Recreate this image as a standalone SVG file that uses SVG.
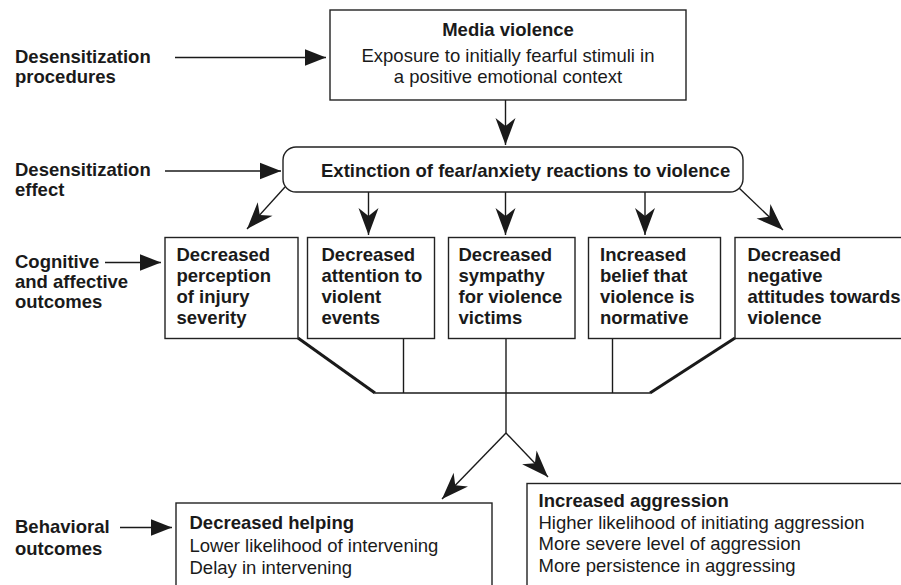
<svg xmlns="http://www.w3.org/2000/svg" width="901" height="585" viewBox="0 0 901 585">
<defs>
<style>
text{font-family:"Liberation Sans",Arial,Helvetica,sans-serif;font-size:18.5px;fill:#1a1a1a}
.b{font-weight:bold}
.box{fill:#fff;stroke:#222;stroke-width:1.4}
.ln{fill:none;stroke:#1a1a1a;stroke-width:1.4}
.thick{fill:none;stroke:#1a1a1a;stroke-width:3}
</style>
<marker id="tri" viewBox="-22 -9 23 18" markerWidth="23" markerHeight="18" refX="0" refY="0" orient="auto" markerUnits="userSpaceOnUse">
<path d="M0,0 L-21,-8.2 L-21,8.2 Z" fill="#1a1a1a"/>
</marker>
<marker id="barb" viewBox="-28 -11 29 22" markerWidth="29" markerHeight="22" refX="0" refY="0" orient="auto" markerUnits="userSpaceOnUse">
<path d="M0,0 L-27,-10 L-19,0 L-27,10 Z" fill="#1a1a1a"/>
</marker>
</defs>
<rect width="901" height="585" fill="#fff"/>

<g id="labels">
<text class="b" x="15" y="63">Desensitization</text>
<text class="b" x="15" y="83">procedures</text>
<text class="b" x="15" y="176">Desensitization</text>
<text class="b" x="15" y="196">effect</text>
<text class="b" x="15" y="268">Cognitive</text>
<text class="b" x="15" y="288">and affective</text>
<text class="b" x="15" y="308">outcomes</text>
<text class="b" x="15" y="533">Behavioral</text>
<text class="b" x="15" y="555">outcomes</text>
</g>

<g id="connectors">
<line class="ln" x1="175" y1="57.5" x2="326" y2="57.5" marker-end="url(#tri)"/>
<line class="ln" x1="165" y1="171" x2="281" y2="171" marker-end="url(#tri)"/>
<line class="ln" x1="105" y1="262.5" x2="161" y2="262.5" marker-end="url(#tri)"/>
<line class="ln" x1="120" y1="527.5" x2="172" y2="527.5" marker-end="url(#tri)"/>
<line class="ln" x1="505.5" y1="100" x2="505.5" y2="145" marker-end="url(#barb)"/>
<line class="ln" x1="285" y1="187" x2="247" y2="229" marker-end="url(#barb)"/>
<line class="ln" x1="368.5" y1="192" x2="368.5" y2="235" marker-end="url(#barb)"/>
<line class="ln" x1="505.5" y1="192" x2="505.5" y2="235" marker-end="url(#barb)"/>
<line class="ln" x1="645" y1="192" x2="645" y2="235" marker-end="url(#barb)"/>
<line class="ln" x1="738" y1="187" x2="783" y2="230" marker-end="url(#barb)"/>
<polyline class="thick" points="298,338 375,393"/>
<polyline class="thick" points="650,393 735,338"/>
<line class="ln" x1="375" y1="393" x2="650" y2="393"/>
<line class="ln" x1="403.5" y1="338" x2="403.5" y2="393"/>
<line class="ln" x1="612.5" y1="338" x2="612.5" y2="393"/>
<line class="ln" x1="506" y1="338" x2="506" y2="433"/>
<line class="ln" x1="506" y1="433" x2="442" y2="499" marker-end="url(#barb)"/>
<line class="ln" x1="506" y1="433" x2="548" y2="477" marker-end="url(#barb)"/>
</g>

<g id="media">
<rect class="box" x="330" y="10" width="356" height="90"/>
<text class="b" x="508" y="36" text-anchor="middle">Media violence</text>
<text x="508" y="62" text-anchor="middle">Exposure to initially fearful stimuli in</text>
<text x="508" y="83" text-anchor="middle">a positive emotional context</text>
</g>

<g id="extinction">
<rect class="box" x="283" y="147" width="460" height="45" rx="13"/>
<text class="b" x="321" y="176.5">Extinction of fear/anxiety reactions to violence</text>
</g>

<g id="out1">
<rect class="box" x="165" y="237.5" width="133" height="101"/>
<text class="b" x="176.5" y="261">Decreased</text>
<text class="b" x="176.5" y="282">perception</text>
<text class="b" x="176.5" y="303">of injury</text>
<text class="b" x="176.5" y="323.5">severity</text>
</g>

<g id="out2">
<rect class="box" x="307.5" y="237.5" width="127" height="101"/>
<text class="b" x="321.5" y="261">Decreased</text>
<text class="b" x="321.5" y="282">attention to</text>
<text class="b" x="321.5" y="303">violent</text>
<text class="b" x="321.5" y="323.5">events</text>
</g>

<g id="out3">
<rect class="box" x="448.5" y="237.5" width="126.5" height="101"/>
<text class="b" x="458.5" y="261">Decreased</text>
<text class="b" x="458.5" y="282">sympathy</text>
<text class="b" x="458.5" y="303">for violence</text>
<text class="b" x="458.5" y="323.5">victims</text>
</g>

<g id="out4">
<rect class="box" x="588.5" y="237.5" width="132" height="101"/>
<text class="b" x="600" y="261">Increased</text>
<text class="b" x="600" y="282">belief that</text>
<text class="b" x="600" y="303">violence is</text>
<text class="b" x="600" y="323.5">normative</text>
</g>

<g id="out5">
<rect class="box" x="735" y="237.5" width="180" height="101"/>
<text class="b" x="747.5" y="261">Decreased</text>
<text class="b" x="747.5" y="282">negative</text>
<text class="b" x="747.5" y="303">attitudes towards</text>
<text class="b" x="747.5" y="323.5">violence</text>
</g>

<g id="helping">
<rect class="box" x="176" y="503" width="316" height="100"/>
<text class="b" x="189.5" y="528.5">Decreased helping</text>
<text x="189.5" y="551.5">Lower likelihood of intervening</text>
<text x="189.5" y="573.5">Delay in intervening</text>
</g>

<g id="aggression">
<rect class="box" x="527" y="483.5" width="400" height="120"/>
<text class="b" x="538.5" y="506.5">Increased aggression</text>
<text x="538.5" y="528.5">Higher likelihood of initiating aggression</text>
<text x="538.5" y="550">More severe level of aggression</text>
<text x="538.5" y="571.5">More persistence in aggressing</text>
</g>
</svg>
